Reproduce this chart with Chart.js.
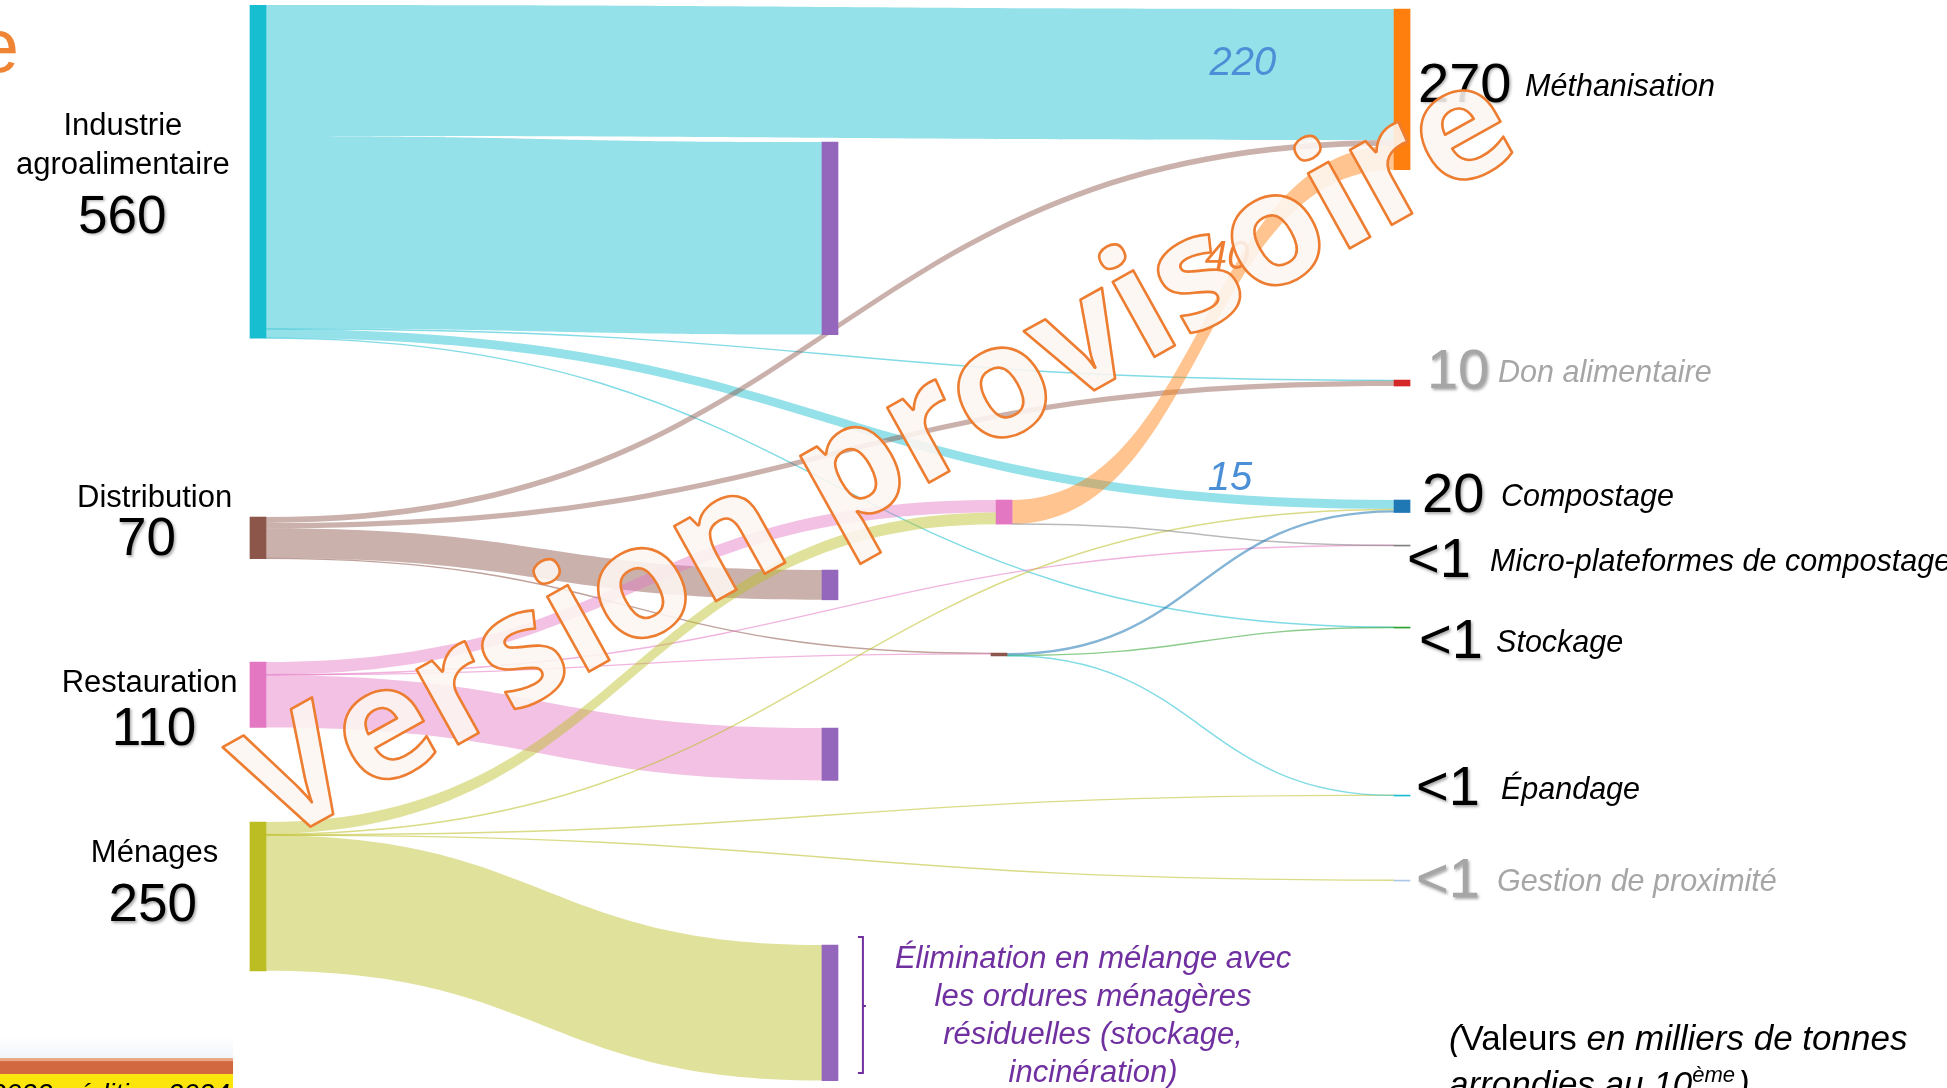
<!DOCTYPE html>
<html lang="fr">
<head>
<meta charset="utf-8">
<title>Flux de biodéchets – Sankey</title>
<script src="https://cdn.jsdelivr.net/npm/chart.js@4.4.1/dist/chart.umd.min.js"></script>
<style>
html,body{margin:0;padding:0;background:#ffffff;overflow:hidden;}
#wrap{position:relative;width:1947px;height:1088px;}
</style>
</head>
<body>
<div id="wrap"><canvas id="chart"></canvas></div>
<script>
// ================= DATA =================
const nodeNames = [
  'Industrie\nagroalimentaire', 'Distribution', 'Restauration', 'Ménages',
  'Élimination (IAA)', 'Élimination (distribution)', 'Élimination (restauration)', 'Élimination (ménages)',
  'Collecte séparée', 'Tri / déconditionnement',
  'Méthanisation', 'Don alimentaire', 'Compostage', 'Micro-plateformes de compostage',
  'Stockage', 'Épandage', 'Gestion de proximité'
];
const linkSource = [0, 0, 0, 0, 0,   1, 1, 1, 1,   2, 2, 2, 2,    3, 3, 3, 3, 3,      8, 8,    9, 9, 9];
const linkTarget = [10, 4, 11, 12, 14, 10, 11, 5, 9, 8, 13, 9, 6,  8, 12, 15, 16, 7,   10, 13,  12, 14, 15];
const linkValue  = [220, 323.6, 1, 15, 0.4,  10, 9, 50, 1,  21, 0.4, 0.6, 88,  19.5, 2, 0.3, 0.4, 227.8,  40, 0.4,  4, 0.4, 0.4];
const labelledLinks = [0, 3, 18];
const eliminationLabel = ['Élimination en mélange avec', 'les ordures ménagères', 'résiduelles (stockage,', 'incinération)'];
const unitNote = ['(', 'Valeurs', ' en milliers de tonnes', 'arrondies au 10', 'ème', ')'];
const titleTail = 'e';
const footerText = '2022 - édition 2024';
const watermarkText = 'Version provisoire';

// ================= LAYOUT (axis units: x = fraction of width, y = thousand tonnes) =================
const Y_MAX = 1820;
const NODE_W = 16;
const nodeColumnX = [.1325, .1325, .1325, .1325, .4263, .4263, .4263, .4263, .5157, .5131, .7201, .7201, .7201, .7201, .7201, .7201, .7201];
const nodeTopY   = [0, 860.5, 1104.2, 1373.1, 230.3, 949.6, 1215.1, 1579.8, 831.9, 1089.1, 6.7, 630.3, 831.9, 907.6, 1045.4, 1327.7, 1470.6];

const leftLabels = [
  {node: 0, nameX: .0631, nameY: 203.4, valueX: .0628, valueY: 358.0},
  {node: 1, nameX: .0794, nameY: 829.4, valueX: .0752, valueY: 900.3},
  {node: 2, nameX: .0768, nameY: 1139.5, valueX: .0791, valueY: 1218.5},
  {node: 3, nameX: .0794, nameY: 1426.4, valueX: .0784, valueY: 1515.0}
];
const LINE_STEP = 65.5;
const rightLabels = [
  {node: 10, numX: .7283, baseY: 163.0, nameX: .7833, grey: false},
  {node: 11, numX: .7329, baseY: 643.7, nameX: .7694, grey: true},
  {node: 12, numX: .7304, baseY: 852.1, nameX: .7709, grey: false},
  {node: 13, numX: .7227, baseY: 961.3, nameX: .7653, grey: false},
  {node: 14, numX: .7288, baseY: 1097.5, nameX: .7684, grey: false},
  {node: 15, numX: .7273, baseY: 1344.5, nameX: .7709, grey: false},
  {node: 16, numX: .7273, baseY: 1499.2, nameX: .7689, grey: true}
];
const NAME_RISE = 10;
const linkLabelPos = [
  {x: .6384, y: 99.2, color: '#4b8fd6'},
  {x: .6317, y: 796.6, color: '#4b8fd6'},
  {x: .6302, y: 425.2, color: '#ed7d31'}
];
const elimText = {x: .5614, baselines: [1618.5, 1682.4, 1746.2, 1810.1]};
const elimBracket = {x: .4432, top: 1566.4, mid: 1682.4, bottom: 1795.0};
const notePos = {x: .7442, y1: 1756.3, y2: 1833.6};
const titlePos = {x: .0098, y: 112.6};
const footerPos = {x1: .1197, orangeTop: 1769.7, yellowTop: 1796.6, yellowBottom: 1830, textX: .1181, textY: 1845};
const watermarkPos = {x: .4505, y: 757, angle: 29.1, span: 1330};

// ================= STYLE =================
const nodeColors = ['#17becf', '#8c564b', '#e377c2', '#bcbd22', '#9467bd', '#9467bd', '#9467bd', '#9467bd',
  '#e377c2', '#8c564b', '#ff7f0e', '#d62728', '#1f77b4', '#7f7f7f', '#2ca02c', '#17becf', '#aec7e8'];
const FONT = '"Liberation Sans", Arial, sans-serif';

// ================= DERIVED =================
const N = nodeNames.length;
const sumIn = new Array(N).fill(0), sumOut = new Array(N).fill(0);
linkValue.forEach((v, i) => { sumOut[linkSource[i]] += v; sumIn[linkTarget[i]] += v; });
const nodeValue = sumIn.map((v, i) => Math.max(v, sumOut[i]));

const outs = nodeNames.map(() => []), ins = nodeNames.map(() => []);
linkValue.forEach((v, i) => { outs[linkSource[i]].push(i); ins[linkTarget[i]].push(i); });
outs.forEach(a => a.sort((p, q) => (nodeTopY[linkTarget[p]] - nodeTopY[linkTarget[q]]) || (nodeColumnX[linkTarget[p]] - nodeColumnX[linkTarget[q]])));
ins.forEach(a => a.sort((p, q) => (nodeColumnX[linkSource[p]] - nodeColumnX[linkSource[q]]) || (nodeTopY[linkSource[p]] - nodeTopY[linkSource[q]])));
const linkY0 = [], linkY1 = [];
outs.forEach((a, n) => { let acc = nodeTopY[n]; a.forEach(i => { linkY0[i] = acc; acc += linkValue[i]; }); });
ins.forEach((a, n) => { let acc = nodeTopY[n]; a.forEach(i => { linkY1[i] = acc; acc += linkValue[i]; }); });

function rgba(hex, a) {
  const h = hex.replace('#', '');
  return `rgba(${parseInt(h.slice(0, 2), 16)},${parseInt(h.slice(2, 4), 16)},${parseInt(h.slice(4, 6), 16)},${a})`;
}
function linkColor(i, a) {
  const s = linkSource[i];
  const c = sumIn[s] === 0 ? nodeColors[s] : nodeColors[linkTarget[i]];
  return rgba(c, a);
}
function fmtTotal(v) { return v < 1 ? '<1' : String(Math.round(v / 10) * 10); }

// ================= PLUGIN =================
const sankeyPlugin = {
  id: 'sankeyDrawing',
  beforeDatasetsDraw(chart) {
    const {ctx, scales: {x, y}} = chart;
    ctx.save();
    linkValue.forEach((v, i) => {
      const s = linkSource[i], t = linkTarget[i];
      const x0 = x.getPixelForValue(nodeColumnX[s]) + NODE_W / 2;
      const x1 = x.getPixelForValue(nodeColumnX[t]) - NODE_W / 2;
      const xm = (x0 + x1) / 2;
      const a0 = y.getPixelForValue(linkY0[i]), b0 = y.getPixelForValue(linkY0[i] + v);
      const a1 = y.getPixelForValue(linkY1[i]), b1 = y.getPixelForValue(linkY1[i] + v);
      const w = b0 - a0;
      if (w < 2.5) {
        const c0 = (a0 + b0) / 2, c1 = (a1 + b1) / 2;
        ctx.beginPath();
        ctx.moveTo(x0, c0);
        ctx.bezierCurveTo(xm, c0, xm, c1, x1, c1);
        ctx.strokeStyle = linkColor(i, 0.55);
        ctx.lineWidth = Math.max(w, 1.4);
        ctx.stroke();
      } else {
        ctx.beginPath();
        ctx.moveTo(x0, a0);
        ctx.bezierCurveTo(xm, a0, xm, a1, x1, a1);
        ctx.lineTo(x1, b1);
        ctx.bezierCurveTo(xm, b1, xm, b0, x0, b0);
        ctx.closePath();
        ctx.fillStyle = linkColor(i, 0.46);
        ctx.fill();
      }
    });
    ctx.restore();
  },
  afterDatasetsDraw(chart) {
    const {ctx, scales: {x, y}} = chart;
    const X = v => x.getPixelForValue(v), Y = v => y.getPixelForValue(v);
    const shadowOn = () => { ctx.shadowColor = 'rgba(0,0,0,0.35)'; ctx.shadowBlur = 3; ctx.shadowOffsetX = 1.5; ctx.shadowOffsetY = 1.5; };
    const shadowOff = () => { ctx.shadowColor = 'rgba(0,0,0,0)'; ctx.shadowBlur = 0; ctx.shadowOffsetX = 0; ctx.shadowOffsetY = 0; };
    ctx.save();

    // left labels
    ctx.textAlign = 'center'; ctx.textBaseline = 'middle';
    leftLabels.forEach(l => {
      ctx.fillStyle = '#000';
      ctx.font = `31px ${FONT}`;
      nodeNames[l.node].split('\n').forEach((line, k) => ctx.fillText(line, X(l.nameX), Y(l.nameY + k * LINE_STEP)));
      ctx.font = `53px ${FONT}`;
      shadowOn();
      ctx.fillText(fmtTotal(sumOut[l.node]), X(l.valueX), Y(l.valueY));
      shadowOff();
    });

    // right labels
    ctx.textAlign = 'left'; ctx.textBaseline = 'alphabetic';
    rightLabels.forEach(r => {
      const col = r.grey ? '#a6a6a6' : '#000';
      ctx.fillStyle = col;
      ctx.font = `56px ${FONT}`;
      shadowOn();
      ctx.fillText(fmtTotal(sumIn[r.node]), X(r.numX), Y(r.baseY));
      shadowOff();
      ctx.font = `italic 30.5px ${FONT}`;
      ctx.fillText(nodeNames[r.node], X(r.nameX), Y(r.baseY - NAME_RISE));
    });

    // link value labels
    ctx.textAlign = 'center'; ctx.textBaseline = 'middle';
    ctx.font = `italic 40px ${FONT}`;
    labelledLinks.forEach((li, k) => {
      ctx.fillStyle = linkLabelPos[k].color;
      ctx.fillText(String(linkValue[li]), X(linkLabelPos[k].x), Y(linkLabelPos[k].y));
    });

    // elimination label + bracket
    ctx.fillStyle = '#7030a0';
    ctx.font = `italic 31px ${FONT}`;
    ctx.textBaseline = 'alphabetic';
    eliminationLabel.forEach((line, k) => ctx.fillText(line, X(elimText.x), Y(elimText.baselines[k])));
    ctx.strokeStyle = '#7030a0'; ctx.lineWidth = 2;
    const bx = X(elimBracket.x);
    ctx.beginPath();
    ctx.moveTo(bx - 5, Y(elimBracket.top)); ctx.lineTo(bx, Y(elimBracket.top));
    ctx.lineTo(bx, Y(elimBracket.bottom)); ctx.lineTo(bx - 5, Y(elimBracket.bottom));
    ctx.moveTo(bx, Y(elimBracket.mid)); ctx.lineTo(bx + 3, Y(elimBracket.mid));
    ctx.stroke();

    // unit note
    ctx.textAlign = 'left';
    ctx.fillStyle = '#000';
    let nx = X(notePos.x);
    const ny1 = Y(notePos.y1), ny2 = Y(notePos.y2);
    ctx.font = `italic 35px ${FONT}`; ctx.fillText(unitNote[0], nx, ny1); nx += ctx.measureText(unitNote[0]).width;
    ctx.font = `35px ${FONT}`; ctx.fillText(unitNote[1], nx, ny1); nx += ctx.measureText(unitNote[1]).width;
    ctx.font = `italic 35px ${FONT}`; ctx.fillText(unitNote[2], nx, ny1);
    nx = X(notePos.x);
    ctx.fillText(unitNote[3], nx, ny2); nx += ctx.measureText(unitNote[3]).width;
    ctx.font = `italic 22px ${FONT}`; ctx.fillText(unitNote[4], nx, ny2 - 14); nx += ctx.measureText(unitNote[4]).width + 3;
    ctx.font = `italic 35px ${FONT}`; ctx.fillText(unitNote[5], nx, ny2);

    // title tail (cut off) top-left
    ctx.textAlign = 'right';
    ctx.fillStyle = '#ee8434';
    ctx.font = `76px ${FONT}`;
    ctx.fillText(titleTail, X(titlePos.x), Y(titlePos.y));

    // footer band bottom-left
    const fx0 = X(0), fx1 = X(footerPos.x1);
    const oT = Y(footerPos.orangeTop), yT = Y(footerPos.yellowTop), yB = Y(footerPos.yellowBottom);
    const grad = ctx.createLinearGradient(0, oT - 22, 0, oT);
    grad.addColorStop(0, 'rgba(235,242,248,0)');
    grad.addColorStop(1, 'rgba(235,242,248,0.7)');
    ctx.fillStyle = grad; ctx.fillRect(fx0, oT - 22, fx1 - fx0, 22);
    ctx.fillStyle = '#e9a585'; ctx.fillRect(fx0, oT, fx1 - fx0, 3);
    ctx.fillStyle = '#d2683f'; ctx.fillRect(fx0, oT + 3, fx1 - fx0, yT - oT - 3);
    ctx.fillStyle = '#fbe50a'; ctx.fillRect(fx0, yT, fx1 - fx0, yB - yT);
    ctx.fillStyle = '#000';
    ctx.font = `italic 28px ${FONT}`;
    ctx.save();
    ctx.beginPath(); ctx.rect(fx0, yT, fx1 - fx0, yB - yT); ctx.clip();
    ctx.fillText(footerText, X(footerPos.textX), Y(footerPos.textY));
    ctx.restore();

    ctx.restore();
  },
  afterDraw(chart) {
    const {ctx, scales: {x, y}} = chart;
    ctx.save();
    const fam = '"Open Sans", "Noto Sans", sans-serif';
    ctx.font = `bold 100px ${fam}`;
    const W = ctx.measureText(watermarkText).width;
    const wV = ctx.measureText(watermarkText[0]).width;
    const we = ctx.measureText(watermarkText[watermarkText.length - 1]).width;
    const S = 100 * watermarkPos.span / (W - wV / 2 - we / 2);
    ctx.translate(x.getPixelForValue(watermarkPos.x), y.getPixelForValue(watermarkPos.y));
    ctx.rotate(-watermarkPos.angle * Math.PI / 180);
    ctx.font = `bold ${S}px ${fam}`;
    ctx.textAlign = 'center'; ctx.textBaseline = 'alphabetic';
    const off = 0.31 * S;
    ctx.fillStyle = 'rgba(253,246,241,0.88)';
    ctx.fillText(watermarkText, 0, off);
    ctx.lineJoin = 'round';
    ctx.strokeStyle = '#ed7d31';
    ctx.lineWidth = 2.6;
    ctx.strokeText(watermarkText, 0, off);
    ctx.restore();
  }
};

// ================= CHART =================
const nodeData = nodeNames.map((n, i) => ({x: nodeColumnX[i], y: [nodeTopY[i], nodeTopY[i] + nodeValue[i]]}));
new Chart(document.getElementById('chart'), {
  type: 'bar',
  data: {
    datasets: [{
      label: 'Nœuds',
      data: nodeData,
      backgroundColor: nodeColors,
      borderWidth: 0,
      barThickness: NODE_W,
      minBarLength: 1,
      grouped: false
    }]
  },
  options: {
    responsive: true,
    maintainAspectRatio: false,
    animation: false,
    events: [],
    layout: {padding: {top: 5, left: 0, right: 0, bottom: 0}},
    plugins: {legend: {display: false}, tooltip: {enabled: false}},
    scales: {
      x: {type: 'linear', min: 0, max: 1, display: false, offset: false},
      y: {type: 'linear', min: 0, max: Y_MAX, reverse: true, display: false}
    }
  },
  plugins: [sankeyPlugin]
});
</script>
</body>
</html>
